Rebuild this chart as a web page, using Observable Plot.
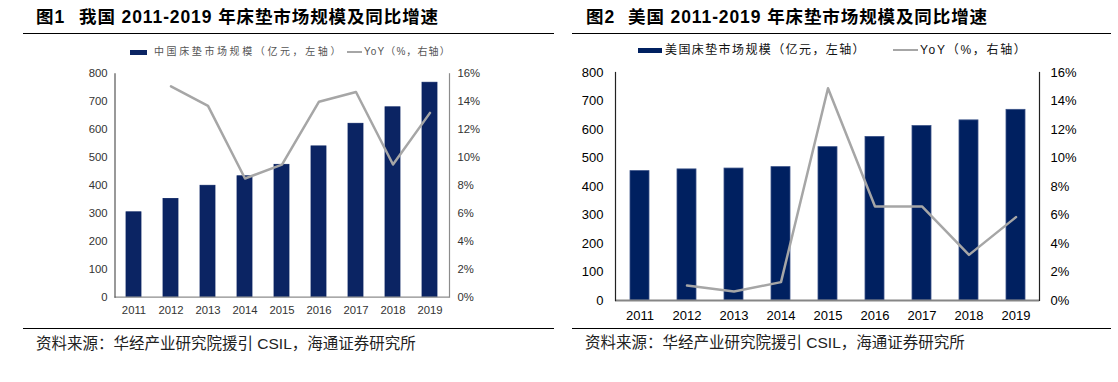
<!DOCTYPE html>
<html>
<head>
<meta charset="utf-8">
<script src="https://cdn.jsdelivr.net/npm/d3@7"></script>
<script src="https://cdn.jsdelivr.net/npm/@observablehq/plot@0.6"></script>
<style>
  html, body { margin: 0; padding: 0; background: #fff; }
  #page { position: relative; width: 1118px; height: 382px; overflow: hidden; background: #fff;
          font-family: "Liberation Sans", Arial, "Noto Sans CJK SC", sans-serif; }
  .abs { position: absolute; white-space: nowrap; }
  .title { font-size: 17.5px; font-weight: bold; color: #000; letter-spacing: 0.9px; line-height: 20px; }
  .rule { position: absolute; height: 0; border-top: 1.6px solid #000; }
  .source { font-size: 15.5px; color: #222; line-height: 20px; }
  .lg { line-height: 14px; }
  .swatch { position: absolute; background: #0b2463; }
  .lline { position: absolute; height: 0; border-top: 2.5px solid #a6a6a6; }
</style>
</head>
<body>
<div id="page">
  <!-- Figure 1 -->
  <div class="abs title" style="left:36px; top:7px;">图1</div>
  <div class="abs title" style="left:79px; top:7px;">我国 2011-2019 年床垫市场规模及同比增速</div>
  <div class="rule" style="left:23px; top:32.5px; width:531px;"></div>
  <div class="swatch" style="left:130px; top:49.5px; width:17px; height:5px;"></div>
  <div class="abs lg" style="left:154px; top:45px; font-size:10px; letter-spacing:2.6px; color:#555;">中国床垫市场规模（亿元，左轴）</div>
  <div class="lline" style="left:347px; top:51px; width:15px;"></div>
  <div class="abs lg" style="left:364px; top:45px; font-size:10px; letter-spacing:1.1px; color:#555;">YoY（%，右轴）</div>
  <div id="chart1" class="abs" style="left:20px; top:62px;"></div>
  <div class="rule" style="left:23px; top:327.5px; width:531px;"></div>
  <div class="abs source" style="left:36px; top:334px;">资料来源：华经产业研究院援引 CSIL，海通证券研究所</div>

  <!-- Figure 2 -->
  <div class="abs title" style="left:586px; top:7px;">图2</div>
  <div class="abs title" style="left:628px; top:7px;">美国 2011-2019 年床垫市场规模及同比增速</div>
  <div class="rule" style="left:572px; top:32.5px; width:539px;"></div>
  <div class="swatch" style="left:638px; top:47.5px; width:24px; height:5px; background:#002060;"></div>
  <div class="abs lg" style="left:665px; top:43px; font-size:12px; letter-spacing:1.4px; color:#111;">美国床垫市场规模（亿元，左轴）</div>
  <div class="lline" style="left:893px; top:49px; width:25px;"></div>
  <div class="abs lg" style="left:920px; top:43px; font-size:12px; letter-spacing:1.7px; color:#111;">YoY（%，右轴）</div>
  <div id="chart2" class="abs" style="left:570px; top:60px;"></div>
  <div class="rule" style="left:572px; top:327.5px; width:539px;"></div>
  <div class="abs source" style="left:585px; top:333px;">资料来源：华经产业研究院援引 CSIL，海通证券研究所</div>
</div>

<script>
// ---- data ----
const years = ["2011", "2012", "2013", "2014", "2015", "2016", "2017", "2018", "2019"];
const cnSize = [304, 352, 399, 433, 474, 540, 621, 680, 768];          // 亿元
const cnYoY  = [null, 15.1, 13.7, 8.5, 9.5, 14.0, 14.7, 9.5, 13.2];    // %
const usSize = [454, 460, 463, 468, 538, 574, 612, 632, 669];          // 亿元
const usYoY  = [null, 1.05, 0.63, 1.29, 14.9, 6.6, 6.6, 3.2, 5.85];    // %
const leftTicks  = [0, 100, 200, 300, 400, 500, 600, 700, 800];
const rightTicks = [0, 2, 4, 6, 8, 10, 12, 14, 16];

// left axis max / right axis max
const ratio = 800 / 16;

function build(size, yoy) {
  return years.map((y, i) => ({year: y, size: size[i], yoy: yoy[i]}));
}

function dual(table, o) {
  const lineData = table.filter(d => d.yoy != null);
  return Plot.plot({
    width: o.width, height: o.height,
    marginLeft: o.ml, marginRight: o.mr, marginTop: o.mt, marginBottom: o.mb,
    style: {fontFamily: "'Liberation Sans', Arial, sans-serif", fontSize: o.fs + "px", color: o.text, background: "transparent", overflow: "visible"},
    x: {domain: years, padding: 0},
    y: {domain: [0, 800]},
    marks: [
      Plot.barY(table, {x: "year", y: "size", fill: o.bar, stroke: o.barStroke, strokeWidth: 0.8, insetLeft: o.inset, insetRight: o.inset}),
      Plot.lineY(lineData, {x: "year", y: d => d.yoy * ratio, stroke: "#a6a6a6", strokeWidth: 2.5}),
      Plot.ruleY([0], {stroke: o.xAxisColor, strokeWidth: o.xAxisWidth}),
      Plot.frame({anchor: "left", stroke: o.leftColor, strokeWidth: 1.2}),
      Plot.frame({anchor: "right", stroke: o.rightColor, strokeWidth: 1.2}),
      Plot.axisY(leftTicks, {anchor: "left", tickSize: 0, tickPadding: o.lp, label: null, fill: o.text}),
      Plot.axisY(rightTicks.map(t => t * ratio), {anchor: "right", tickSize: 0, tickPadding: o.rp, label: null, fill: o.text,
        tickFormat: d => Math.round(d / ratio) + "%"}),
      Plot.axisX({tickSize: 0, tickPadding: o.xp, label: null, fill: o.text})
    ]
  });
}

document.getElementById("chart1").appendChild(dual(build(cnSize, cnYoY), {
  width: 520, height: 262, ml: 94.5, mr: 91, mt: 11.3, mb: 27.3, fs: 11.3,
  text: "#333", bar: "#0b2463", barStroke: "#0b2463", inset: 11,
  xAxisColor: "#8c8c8c", xAxisWidth: 1.3, leftColor: "#555", rightColor: "#8c8c8c",
  lp: 7.5, rp: 8, xp: 9
}));

document.getElementById("chart2").appendChild(dual(build(usSize, usYoY), {
  width: 540, height: 265, ml: 45, mr: 71, mt: 12, mb: 25, fs: 13,
  text: "#000", bar: "#002060", barStroke: "#3a5288", inset: 14,
  xAxisColor: "#868686", xAxisWidth: 2, leftColor: "#222", rightColor: "#222",
  lp: 12, rp: 11, xp: 10.3
}));
</script>
</body>
</html>
